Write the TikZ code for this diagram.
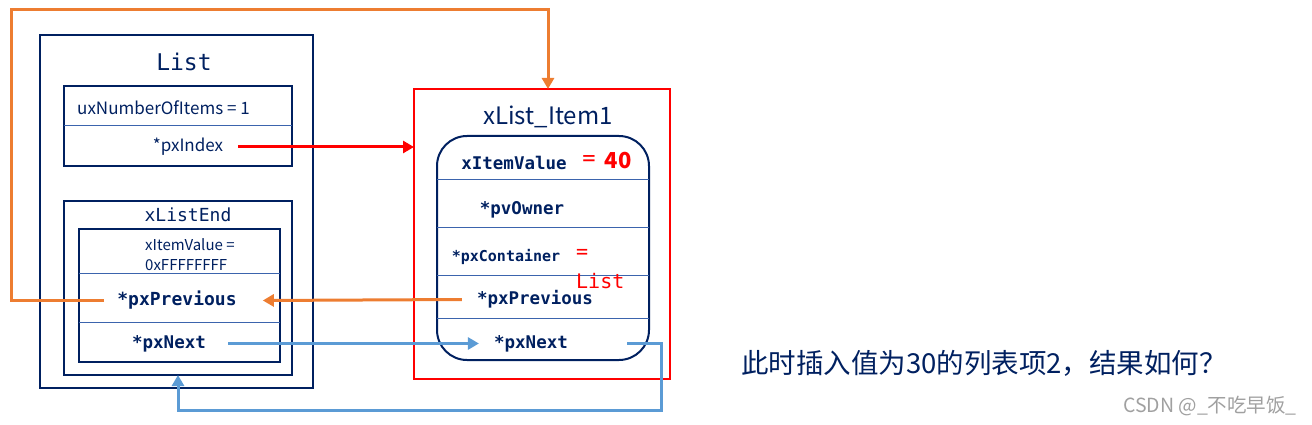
\documentclass[tikz,border=0pt]{standalone}
\usepackage{fontspec}
\setmainfont{Noto Sans CJK SC}
\newfontfamily\cjk{Noto Sans CJK SC}
\newfontfamily\monof{DejaVu Sans Mono}
\usetikzlibrary{arrows.meta}
\definecolor{navy}{HTML}{002060}
\definecolor{sepc}{HTML}{3B64AD}
\definecolor{orng}{HTML}{ED7D31}
\definecolor{lblue}{HTML}{5B9BD5}
\definecolor{wgray}{HTML}{A0A0A0}
\tikzset{
  box/.style={draw=navy, line width=2pt, rectangle, inner sep=0pt, outer sep=0pt},
  sepline/.style={draw=sepc, line width=1pt},
  sanslbl/.style={text=navy, inner sep=0pt, font=\cjk\fontsize{17}{20}\selectfont},
  monob/.style={text=navy, inner sep=0pt, font=\monof\bfseries\fontsize{17.5}{20}\selectfont},
  monor/.style={text=navy, inner sep=0pt, font=\monof\fontsize{18}{21}\selectfont},
  arr/.style={line width=3pt, -{Triangle[length=11pt,width=12pt]}},
}
\begin{document}
\begin{tikzpicture}[x=1pt,y=-1pt]
\useasboundingbox (0,0) rectangle (1312,425);
% ---------- List structure ----------
\node[box, minimum width=273pt, minimum height=353pt] (list) at (176.5,211.5) {};
\node[monor, font=\monof\fontsize{23}{26}\selectfont] (listtitle) at (184,62) {List};
\node[box, minimum width=228pt, minimum height=80pt] (hdr) at (178,126) {};
\draw[sepline] (hdr.west |- 0,126) -- (hdr.east |- 0,126);
\node[sanslbl, anchor=west] (numitems) at (77,108) {uxNumberOfItems = 1};
\node[sanslbl] (pxindex) at (188,147) {*pxIndex};
\node[box, minimum width=228pt, minimum height=174pt] (endbox) at (178,288) {};
\node[monor] (endtitle) at (188,215) {xListEnd};
\node[box, minimum width=201pt, minimum height=133pt] (endin) at (179.5,295.5) {};
\draw[sepline] (endin.west |- 0,273) -- (endin.east |- 0,273);
\draw[sepline] (endin.west |- 0,322) -- (endin.east |- 0,322);
\node[sanslbl, font=\cjk\fontsize{15}{20}\selectfont, anchor=west, align=left] (endval) at (145,255) {xItemValue =\\0xFFFFFFFF};
\node[monob, font=\monof\bfseries\fontsize{18}{21}\selectfont] (lprev) at (177,300.5) {*pxPrevious};
\node[monob] (lnext) at (169,343.5) {*pxNext};
% ---------- List item ----------
\node[draw=red, line width=2pt, rectangle, inner sep=0pt, outer sep=0pt, minimum width=256pt, minimum height=290pt] (item) at (542,234) {};
\node[sanslbl, font=\cjk\fontsize{24}{27}\selectfont] (itemtitle) at (548,117) {xList\_Item1};
\node[box, rounded corners=30pt, minimum width=212pt, minimum height=224pt] (itemin) at (543,248) {};
\draw[sepline] (itemin.west |- 0,179) -- (itemin.east |- 0,179);
\draw[sepline] (itemin.west |- 0,227) -- (itemin.east |- 0,227);
\draw[sepline] (itemin.west |- 0,275) -- (itemin.east |- 0,275);
\draw[sepline] (itemin.west |- 0,318) -- (itemin.east |- 0,318);
\node[monob] (ival) at (514,162.5) {xItemValue};
\node[text=red, inner sep=0pt, font=\monof\fontsize{22}{24}\selectfont] (ivaleq) at (589,161) {=};
\node[text=red, inner sep=0pt, font=\cjk\bfseries\fontsize{22}{24}\selectfont] (ivalnum) at (618,161) {40};
\node[monob] (iowner) at (522,209.5) {*pvOwner};
\node[monob, font=\monof\bfseries\fontsize{15}{18}\selectfont] (icont) at (506,257) {*pxContainer};
\node[text=red, inner sep=0pt, anchor=west, align=left, font=\monof\fontsize{20}{30}\selectfont] (icontval) at (576,269) {=\\List};
\node[monob] (iprev) at (535,299.5) {*pxPrevious};
\node[monob] (inext) at (531,343.5) {*pxNext};
% ---------- text ----------
\node[text=navy, inner sep=0pt, anchor=west, font=\cjk\fontsize{27.5}{31}\selectfont] (question) at (741,363) {此时插入值为30的列表项2，结果如何？};
\node[text=wgray, inner sep=0pt, anchor=east, font=\cjk\fontsize{19.5}{22}\selectfont] (mark) at (1297,406) {CSDN @\_不吃早饭\_};
% ---------- connectors ----------
\coordinate (loopTL) at (11,10);
\coordinate (loopBR) at (661,410);
\draw[arr, red] ([xshift=15pt]pxindex.east) -- (pxindex -| item.west);
\draw[arr, orng] ([xshift=-15pt]iprev.west) -- ([xshift=26pt]lprev.east);
\draw[arr, orng] ([xshift=-13pt]lprev.west) -| (loopTL) -| ([xshift=6pt]item.north);
\draw[arr, lblue] ([xshift=22pt]lnext.east) -- ([xshift=-15pt]inext.west);
\draw[arr, lblue] ([xshift=59pt]inext.east) -| (loopBR) -| (endbox.south);
\end{tikzpicture}
\end{document}
